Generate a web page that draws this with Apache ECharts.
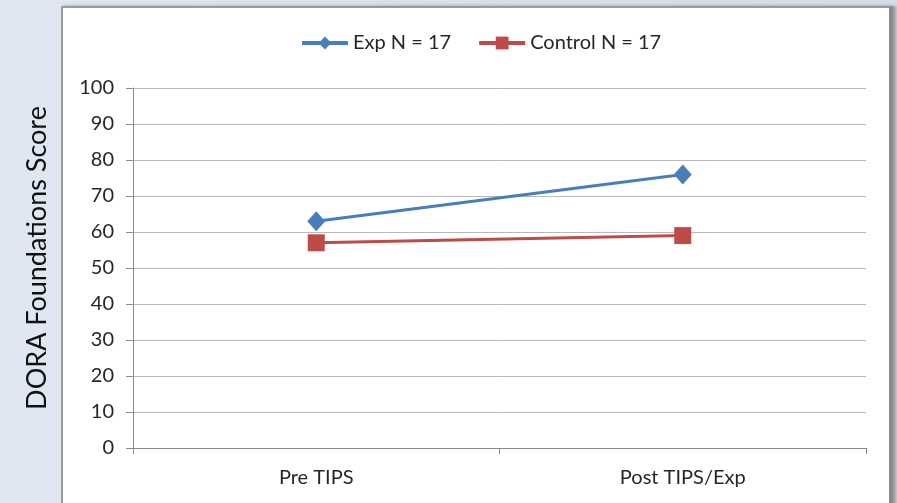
<!DOCTYPE html>
<html>
<head>
<meta charset="utf-8">
<script src="https://cdn.jsdelivr.net/npm/echarts@6/dist/echarts.min.js"></script>
<style>
  html, body { margin: 0; padding: 0; width: 897px; height: 503px; overflow: hidden; }
  body { background: linear-gradient(90deg, #dfe8f2 0%, #d6e1ed 50%, #d2deea 100%); position: relative; }
  #panel {
    position: absolute; left: 61px; top: 6px; width: 826px; height: 510px;
    background: #ffffff; border-left: 2px solid #9a9a9a; border-top: 2px solid #9a9a9a;
    border-right: 4px solid #8a8a8a; box-shadow: 3px 0 3px rgba(90,90,90,0.5);
  }
  #chart { position: absolute; left: 0; top: 0; width: 897px; height: 503px; }
</style>
</head>
<body>
<div id="panel"></div>
<div id="chart"></div>
<script>
// Mean DORA Foundations scores, before and after TIPS
const categories = ['Pre TIPS', 'Post TIPS/Exp'];
const expScores = [63, 76];
const controlScores = [57, 59];
const seriesNames = ['Exp N = 17', 'Control N = 17'];
const yTitle = 'DORA Foundations Score';

const font = 'Lato, "Open Sans", sans-serif';
const chart = echarts.init(document.getElementById('chart'));
chart.setOption({
  backgroundColor: 'transparent',
  animation: false,
  textStyle: { fontFamily: font },
  legend: {
    top: 28,
    left: 295,
    itemWidth: 46,
    itemHeight: 16,
    itemGap: 26,
    lineStyle: { width: 4 },
    textStyle: { fontSize: 20, color: '#262626', fontFamily: font },
    data: seriesNames
  },
  grid: { left: 133, right: 31, top: 88, bottom: 55 },
  graphic: [{
    type: 'text',
    x: 37, y: 258,
    rotation: Math.PI / 2,
    style: {
      text: yTitle, fontSize: 27, fill: '#111', fontFamily: font,
      align: 'center', verticalAlign: 'middle'
    }
  }],
  xAxis: {
    type: 'category',
    data: categories,
    boundaryGap: true,
    axisLine: { lineStyle: { color: '#8a8a8a', width: 1 } },
    axisTick: { show: true, length: 6, lineStyle: { color: '#8a8a8a' } },
    axisLabel: { fontSize: 20, color: '#262626', margin: 20, fontFamily: font }
  },
  yAxis: {
    type: 'value',
    min: 0, max: 100, interval: 10,
    axisLine: { show: true, lineStyle: { color: '#8a8a8a', width: 1 } },
    axisTick: { show: true, length: 7, lineStyle: { color: '#8a8a8a' } },
    axisLabel: { fontSize: 20, color: '#262626', margin: 19, fontFamily: font },
    splitLine: { lineStyle: { color: '#b8b8b8', width: 1 } }
  },
  series: [
    {
      name: seriesNames[0], type: 'line', data: expScores,
      symbol: 'diamond', symbolSize: [18, 20],
      lineStyle: { color: '#4a7ebb', width: 3 },
      itemStyle: { color: '#4a7ebb' }
    },
    {
      name: seriesNames[1], type: 'line', data: controlScores,
      symbol: 'rect', symbolSize: 17,
      lineStyle: { color: '#be4b48', width: 3 },
      itemStyle: { color: '#be4b48' }
    }
  ]
});
</script>
</body>
</html>
